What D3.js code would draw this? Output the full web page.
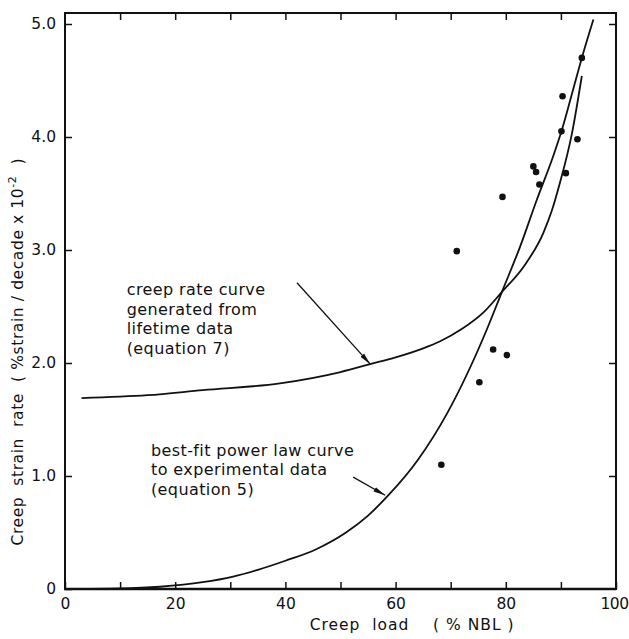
<!DOCTYPE html>
<html>
<head>
<meta charset="utf-8">
<script src="https://cdn.jsdelivr.net/npm/d3@7"></script>
<style>
  html, body { margin: 0; padding: 0; background: #fff; }
  svg text { font-family: "DejaVu Sans", sans-serif; fill: #111; white-space: pre; }
</style>
</head>
<body>
<svg id="chart" width="629" height="639"></svg>
<script>
// Creep strain rate vs creep load
const lifetimeLoad = [3, 15, 25, 39, 50, 55.4, 60, 65, 68, 72, 76, 79.3, 83.2, 86.8, 88.3, 89.8, 92.0, 93.8];
const lifetimeRate = [1.69, 1.715, 1.76, 1.82, 1.92, 1.99, 2.05, 2.13, 2.19, 2.30, 2.45, 2.63, 2.85, 3.15, 3.34, 3.59, 4.03, 4.54];

const powerLawLoad = [0, 10, 17.2, 25, 30.5, 35, 40, 45.5, 51, 55, 58.7, 64, 69.3, 76.5, 79.3, 82.6, 85.6, 88.6, 90.1, 92.0, 93.8, 95.9];
const powerLawRate = [0, 0.005, 0.02, 0.06, 0.11, 0.17, 0.25, 0.35, 0.50, 0.65, 0.83, 1.14, 1.55, 2.29, 2.63, 3.03, 3.44, 3.83, 4.05, 4.38, 4.70, 5.04];

const testLoad = [68.3, 71.1, 75.2, 77.7, 79.4, 80.2, 85.0, 85.5, 86.1, 90.1, 90.3, 90.9, 93.0, 93.8];
const testRate = [1.10, 2.99, 1.83, 2.12, 3.47, 2.07, 3.74, 3.69, 3.58, 4.05, 4.36, 3.68, 3.98, 4.70];

const xTicksMajor = [0, 20, 40, 60, 80, 100];
const xTicksMinor = [0, 10, 20, 30, 40, 50, 60, 70, 80, 90, 100];
const yTicks = [0, 1, 2, 3, 4, 5];
const yTickLabels = ["0", "1.0", "2.0", "3.0", "4.0", "5.0"];

const lifetimeNote = ["creep rate curve", "generated from", "lifetime data", "(equation 7)"];
const powerNote = ["best-fit power law curve", "to experimental data", "(equation 5)"];

const svg = d3.select("#chart");
const plotLeft = 65, plotRight = 616, plotTop = 13, plotBottom = 589;

const x = d3.scaleLinear().domain([0, 100]).range([plotLeft, plotRight]);
const y = d3.scaleLinear()
  .domain([0, 5 * (plotBottom - plotTop) / (plotBottom - 24)])
  .range([plotBottom, plotTop]);

// frame
svg.append("rect")
  .attr("x", plotLeft).attr("y", plotTop)
  .attr("width", plotRight - plotLeft).attr("height", plotBottom - plotTop)
  .attr("fill", "none").attr("stroke", "#111").attr("stroke-width", 2);
svg.append("line")
  .attr("x1", plotLeft - 1).attr("x2", plotRight).attr("y1", plotBottom).attr("y2", plotBottom)
  .attr("stroke", "#111").attr("stroke-width", 2.6);

const tickLen = 7;
function styleAxis(g) {
  g.select(".domain").remove();
  g.selectAll(".tick line").attr("stroke", "#111").attr("stroke-width", 1.5);
  g.selectAll("text").attr("font-size", 15.5).attr("fill", "#111")
    .style("font-family", "'DejaVu Sans', sans-serif");
}

// bottom ticks (inward) and labels
svg.append("g").attr("transform", `translate(0,${plotBottom})`)
  .call(d3.axisBottom(x).tickValues(xTicksMinor).tickSize(-tickLen).tickFormat(""))
  .call(styleAxis);
svg.append("g").attr("transform", `translate(0,${plotBottom})`)
  .call(d3.axisBottom(x).tickValues(xTicksMajor).tickSize(0).tickPadding(9).tickFormat(d3.format("d")))
  .call(styleAxis)
  .call(g => g.selectAll(".tick text").filter(d => d === 100).attr("dx", -2).attr("letter-spacing", -0.6));
// top ticks
svg.append("g").attr("transform", `translate(0,${plotTop})`)
  .call(d3.axisTop(x).tickValues(xTicksMinor.filter(d => d > 0 && d < 100)).tickSize(-tickLen).tickFormat(""))
  .call(styleAxis);
// left ticks and labels
svg.append("g").attr("transform", `translate(${plotLeft},0)`)
  .call(d3.axisLeft(y).tickValues(yTicks).tickSize(-tickLen).tickPadding(9).tickFormat((d, i) => yTickLabels[i]))
  .call(styleAxis);
// right ticks
svg.append("g").attr("transform", `translate(${plotRight},0)`)
  .call(d3.axisRight(y).tickValues(yTicks.filter(d => d > 0)).tickSize(-tickLen).tickFormat(""))
  .call(styleAxis);

// axis titles
svg.append("text")
  .attr("x", x(63)).attr("y", 630)
  .attr("text-anchor", "middle").attr("font-size", 15.5).attr("letter-spacing", 1)
  .text("Creep  load    ( % NBL )");

const yTitle = svg.append("text")
  .attr("transform", `translate(23,${y(2.1)}) rotate(-90)`)
  .attr("text-anchor", "middle").attr("font-size", 15.5).attr("letter-spacing", 0.6);
yTitle.append("tspan").text("Creep  strain  rate  ( %strain / decade x 10");
yTitle.append("tspan").attr("font-size", 11).attr("dy", -7).text("-2");
yTitle.append("tspan").attr("dy", 7).text("  )");

// curves
const line = d3.line().x(d => x(d[0])).y(d => y(d[1])).curve(d3.curveMonotoneX);
const lifetimePts = lifetimeLoad.map((v, i) => [v, lifetimeRate[i]]);
const powerPts = powerLawLoad.map((v, i) => [v, powerLawRate[i]]);
[lifetimePts, powerPts].forEach(pts => {
  svg.append("path").attr("d", line(pts))
    .attr("fill", "none").attr("stroke", "#111").attr("stroke-width", 1.8);
});

// measured points
svg.append("g").selectAll("circle")
  .data(testLoad.map((v, i) => [v, testRate[i]]))
  .join("circle")
  .attr("cx", d => x(d[0])).attr("cy", d => y(d[1])).attr("r", 3.3)
  .attr("fill", "#111");

// annotations
svg.append("defs").append("marker")
  .attr("id", "head").attr("viewBox", "0 0 12 6")
  .attr("refX", 12).attr("refY", 3)
  .attr("markerWidth", 12).attr("markerHeight", 6)
  .attr("markerUnits", "userSpaceOnUse").attr("orient", "auto")
  .append("path").attr("d", "M0,0.6 L12,3 L0,5.4 Z").attr("fill", "#111");

function note(lines, tx, ty, from, to) {
  const t = svg.append("text").attr("font-size", 16).attr("letter-spacing", 0.4);
  lines.forEach((s, i) => t.append("tspan").attr("x", x(tx)).attr("y", y(ty) + i * 19.5).text(s));
  svg.append("line")
    .attr("x1", x(from[0])).attr("y1", y(from[1]))
    .attr("x2", x(to[0])).attr("y2", y(to[1]))
    .attr("stroke", "#111").attr("stroke-width", 1.3)
    .attr("marker-end", "url(#head)");
}
note(lifetimeNote, 11.2, 2.6, [42.1, 2.71], [55.4, 1.99]);
note(powerNote, 15.6, 1.18, [52.3, 0.99], [58.1, 0.83]);
</script>
</body>
</html>
